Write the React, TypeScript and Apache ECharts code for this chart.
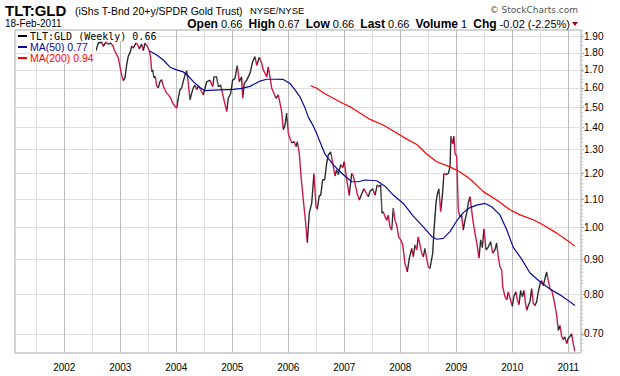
import React, { useEffect, useRef } from "react";
import * as echarts from "echarts";

// ---- data (decimal years, ratio values) ----
const priceTime = [
  2002.567, 2002.607, 2002.668, 2002.696, 2002.745, 2002.786, 2002.829, 2002.875, 2002.888, 2002.964,
  2003.025, 2003.054, 2003.084, 2003.114, 2003.143, 2003.173, 2003.204, 2003.232, 2003.280, 2003.311,
  2003.339, 2003.382, 2003.411, 2003.441, 2003.482, 2003.518, 2003.543, 2003.561, 2003.579, 2003.602,
  2003.625, 2003.650, 2003.679, 2003.709, 2003.739, 2003.768, 2003.798, 2003.829, 2003.857, 2003.900,
  2003.936, 2003.977, 2004.007, 2004.036, 2004.066, 2004.096, 2004.125, 2004.155, 2004.186, 2004.214,
  2004.245, 2004.275, 2004.304, 2004.334, 2004.364, 2004.393, 2004.423, 2004.482, 2004.543, 2004.602,
  2004.650, 2004.673, 2004.721, 2004.750, 2004.793, 2004.839, 2004.900, 2004.929, 2004.971, 2005.007,
  2005.048, 2005.089, 2005.125, 2005.168, 2005.186, 2005.214, 2005.257, 2005.316, 2005.364, 2005.405,
  2005.436, 2005.482, 2005.525, 2005.554, 2005.614, 2005.643, 2005.673, 2005.704, 2005.745, 2005.780,
  2005.821, 2005.852, 2005.882, 2005.911, 2005.941, 2005.971, 2006.000, 2006.030, 2006.061, 2006.107,
  2006.138, 2006.161, 2006.196, 2006.227, 2006.268, 2006.311, 2006.339, 2006.375, 2006.418, 2006.459,
  2006.495, 2006.518, 2006.554, 2006.579, 2006.614, 2006.650, 2006.686, 2006.714, 2006.757, 2006.793,
  2006.834, 2006.864, 2006.893, 2006.936, 2006.971, 2007.000, 2007.043, 2007.089, 2007.132, 2007.161,
  2007.191, 2007.232, 2007.268, 2007.311, 2007.352, 2007.400, 2007.429, 2007.459, 2007.507, 2007.548,
  2007.589, 2007.614, 2007.650, 2007.673, 2007.696, 2007.727, 2007.757, 2007.786, 2007.816, 2007.846,
  2007.875, 2007.905, 2007.936, 2007.971, 2008.007, 2008.043, 2008.084, 2008.125, 2008.161, 2008.204,
  2008.232, 2008.263, 2008.293, 2008.321, 2008.352, 2008.382, 2008.411, 2008.441, 2008.471, 2008.500,
  2008.530, 2008.579, 2008.602, 2008.638, 2008.661, 2008.691, 2008.721, 2008.750, 2008.780, 2008.816,
  2008.857, 2008.888, 2008.905, 2008.936, 2008.959, 2008.977, 2009.007, 2009.036, 2009.066, 2009.096,
  2009.125, 2009.155, 2009.186, 2009.214, 2009.245, 2009.275, 2009.304, 2009.375, 2009.405, 2009.436,
  2009.464, 2009.495, 2009.530, 2009.571, 2009.614, 2009.650, 2009.691, 2009.721, 2009.750, 2009.780,
  2009.811, 2009.829, 2009.870, 2009.900, 2009.929, 2009.959, 2010.000, 2010.030, 2010.066, 2010.089,
  2010.120, 2010.150, 2010.179, 2010.209, 2010.232, 2010.257, 2010.286, 2010.316, 2010.346, 2010.375,
  2010.405, 2010.436, 2010.464, 2010.495, 2010.525, 2010.554, 2010.584, 2010.614, 2010.643, 2010.673,
  2010.704, 2010.732, 2010.763, 2010.793, 2010.821, 2010.852, 2010.882, 2010.911, 2010.941, 2010.971,
  2011.000, 2011.030, 2011.061, 2011.089, 2011.118,
];

const priceValue = [
  1.813, 1.86, 1.865, 1.84, 1.865, 1.853, 1.86, 1.84, 1.82, 1.77,
  1.67, 1.64, 1.655, 1.73, 1.78, 1.80, 1.84, 1.83, 1.86, 1.85,
  1.825, 1.853, 1.813, 1.86, 1.84, 1.813, 1.77, 1.69, 1.70, 1.655,
  1.663, 1.61, 1.60, 1.635, 1.645, 1.61, 1.59, 1.572, 1.563, 1.546,
  1.52, 1.504, 1.495, 1.546, 1.59, 1.60, 1.635, 1.67, 1.695, 1.627,
  1.537, 1.572, 1.60, 1.615, 1.59, 1.61, 1.598, 1.562, 1.633, 1.642,
  1.606, 1.66, 1.66, 1.606, 1.615, 1.553, 1.477, 1.545, 1.57, 1.642,
  1.652, 1.725, 1.633, 1.66, 1.545, 1.624, 1.642, 1.68, 1.747, 1.777,
  1.725, 1.774, 1.738, 1.70, 1.66, 1.717, 1.66, 1.598, 1.57, 1.545,
  1.562, 1.52, 1.477, 1.39, 1.41, 1.47, 1.374, 1.35, 1.33, 1.335,
  1.313, 1.335, 1.285, 1.19, 1.098, 1.015, 0.951, 1.05, 1.086, 1.20,
  1.073, 1.064, 1.115, 1.115, 1.175, 1.175, 1.243, 1.277, 1.29, 1.243,
  1.19, 1.215, 1.195, 1.236, 1.223, 1.25, 1.175, 1.115, 1.20, 1.19,
  1.16, 1.12, 1.098, 1.12, 1.14, 1.12, 1.11, 1.13, 1.14, 1.115,
  1.155, 1.148, 1.155, 1.05, 1.055, 1.038, 1.025, 1.043, 1.003, 0.992,
  1.068, 1.025, 1.009, 0.97, 0.96, 0.944, 0.887, 0.862, 0.902, 0.933,
  0.907, 0.944, 0.928, 0.97, 0.944, 0.918, 0.907, 0.933, 0.902, 0.877,
  0.872, 0.918, 0.992, 1.086, 1.12, 1.14, 1.055, 1.11, 1.20, 1.195,
  1.20, 1.226, 1.36, 1.325, 1.36, 1.285, 1.271, 1.06, 1.038, 1.043,
  0.992, 1.025, 1.05, 1.086, 1.11, 1.06, 1.015, 0.94, 0.903, 0.96,
  0.935, 0.996, 0.928, 0.937, 0.954, 0.918, 0.928, 0.95, 0.907, 0.877,
  0.867, 0.82, 0.793, 0.785, 0.806, 0.79, 0.768, 0.795, 0.806, 0.785,
  0.772, 0.81, 0.793, 0.81, 0.78, 0.758, 0.77, 0.78, 0.815, 0.775,
  0.77, 0.78, 0.806, 0.828, 0.837, 0.823, 0.843, 0.862, 0.837, 0.815,
  0.81, 0.793, 0.77, 0.745, 0.708, 0.72, 0.694, 0.687, 0.693, 0.677,
  0.69, 0.694, 0.70, 0.677, 0.66,
];

const ma50Time = [
  2003.518, 2003.650, 2003.768, 2003.888, 2004.007, 2004.125, 2004.214, 2004.304, 2004.423, 2004.513,
  2004.602, 2004.780, 2005.018, 2005.173, 2005.316, 2005.495, 2005.614, 2005.763, 2005.911, 2006.030,
  2006.120, 2006.209, 2006.298, 2006.357, 2006.446, 2006.507, 2006.596, 2006.655, 2006.804, 2006.954,
  2007.132, 2007.250, 2007.370, 2007.579, 2007.727, 2007.875, 2008.054, 2008.232, 2008.411, 2008.561,
  2008.650, 2008.768, 2008.888, 2009.007, 2009.125, 2009.245, 2009.364, 2009.513, 2009.632, 2009.780,
  2009.900, 2010.018, 2010.168, 2010.316, 2010.495, 2010.673, 2010.852, 2010.971, 2011.118,
];
const ma50Value = [
  1.813, 1.787, 1.757, 1.715, 1.70, 1.688, 1.665, 1.634, 1.602, 1.585,
  1.587, 1.589, 1.592, 1.597, 1.608, 1.637, 1.647, 1.647, 1.646, 1.624,
  1.589, 1.552, 1.496, 1.45, 1.408, 1.372, 1.316, 1.281, 1.235, 1.201,
  1.167, 1.167, 1.174, 1.171, 1.15, 1.116, 1.085, 1.04, 1.003, 0.971,
  0.962, 0.965, 0.987, 1.023, 1.052, 1.07, 1.079, 1.085, 1.073, 1.044,
  0.993, 0.936, 0.90, 0.859, 0.834, 0.814, 0.798, 0.786, 0.77,
];

const ma200Time = [
  2006.396, 2006.507, 2006.625, 2006.745, 2006.864, 2006.977, 2007.102, 2007.280, 2007.459, 2007.696,
  2007.875, 2008.054, 2008.293, 2008.471, 2008.650, 2008.888, 2009.066, 2009.245, 2009.482, 2009.721,
  2009.959, 2010.138, 2010.375, 2010.554, 2010.793, 2010.959, 2011.118,
];
const ma200Value = [
  1.613, 1.598, 1.574, 1.554, 1.536, 1.518, 1.502, 1.47, 1.439, 1.412,
  1.384, 1.356, 1.323, 1.281, 1.248, 1.227, 1.206, 1.178, 1.129, 1.098,
  1.062, 1.044, 1.027, 1.009, 0.982, 0.961, 0.94,
];

const yTickLabels = ["0.70", "0.80", "0.90", "1.00", "1.10", "1.20", "1.30", "1.40", "1.50", "1.60", "1.70", "1.80", "1.90"];
const yearLabels = [2002, 2003, 2004, 2005, 2006, 2007, 2008, 2009, 2010, 2011];
const gridTicks = [2001.5, 2002, 2002.5, 2003, 2003.5, 2004, 2004.5, 2005, 2005.5, 2006, 2006.5, 2007, 2007.5, 2008, 2008.5, 2009, 2009.5, 2010, 2010.5, 2011];

const X_MIN = 2001.12;
const X_MAX = 2011.227;
const V_MIN = 0.6564;
const V_MAX = 1.9434;

const UP = "#2a2a2a";
const DOWN = "#cc1a48";
const SANS = '"Liberation Sans", Arial, sans-serif';

export default function App() {
  const ref = useRef<HTMLDivElement>(null);

  useEffect(() => {
    const chart = echarts.init(ref.current!, null, { renderer: "svg" });
    const n = Math.min(priceTime.length, priceValue.length);
    const price = [] as number[][];
    for (let i = 0; i < n; i++) price.push([priceTime[i], Math.log(priceValue[i])]);
    const pieces = [] as any[];
    for (let i = 0; i < n - 1; i++) {
      const color = priceValue[i + 1] >= priceValue[i] ? UP : DOWN;
      if (i === 0) pieces.push({ gte: priceTime[i], lte: priceTime[i + 1], color });
      else pieces.push({ gt: priceTime[i], lte: priceTime[i + 1], color });
    }
    const ma50 = ma50Time.map((t, i) => [t, Math.log(ma50Value[i])]);
    const ma200 = ma200Time.map((t, i) => [t, Math.log(ma200Value[i])]);
    const yVals = yTickLabels.map((s) => Math.log(parseFloat(s)));

    const option: any = {
      animation: false,
      backgroundColor: "#ffffff",
      grid: {
        left: 15,
        right: 39,
        top: 30,
        bottom: 23,
        show: true,
        borderColor: "#a9a9a9",
        borderWidth: 1,
        backgroundColor: "transparent",
      },
      xAxis: {
        type: "value",
        min: X_MIN,
        max: X_MAX,
        axisLine: { show: false },
        axisTick: { show: false, customValues: gridTicks },
        axisLabel: {
          customValues: yearLabels,
          formatter: (v: number) => String(Math.round(v)),
          color: "#000",
          fontSize: 10,
          fontFamily: SANS,
          margin: 9,
        },
        splitLine: { show: true, lineStyle: { color: ["#dedede", "#bcbcbc"], width: 1 } },
      },
      yAxis: {
        type: "value",
        position: "right",
        min: Math.log(V_MIN),
        max: Math.log(V_MAX),
        axisLine: { show: false },
        axisTick: { show: true, length: 3, customValues: yVals, lineStyle: { color: "#a9a9a9" } },
        minorTick: { show: true, splitNumber: 16, length: 2, lineStyle: { color: "#c4c4c4" } },
        axisLabel: {
          customValues: yVals,
          formatter: (v: number) => Math.exp(v).toFixed(2),
          color: "#000",
          fontSize: 10,
          fontFamily: SANS,
          margin: 3,
        },
        splitLine: { show: true, lineStyle: { color: "#dedede", width: 1 } },
      },
      visualMap: {
        type: "piecewise",
        show: false,
        dimension: 0,
        seriesIndex: 0,
        pieces,
      },
      series: [
        {
          name: "TLT:GLD",
          type: "line",
          data: price,
          showSymbol: false,
          symbol: "none",
          lineStyle: { width: 1.4 },
          z: 2,
        },
        {
          name: "MA(50)",
          type: "line",
          data: ma50,
          showSymbol: false,
          symbol: "none",
          lineStyle: { width: 1.2, color: "#0a0a9a" },
          itemStyle: { color: "#0a0a9a" },
          z: 3,
        },
        {
          name: "MA(200)",
          type: "line",
          data: ma200,
          showSymbol: false,
          symbol: "none",
          lineStyle: { width: 1.2, color: "#ff0000" },
          itemStyle: { color: "#ff0000" },
          z: 3,
        },
      ],
      graphic: {
        elements: [
          { type: "text", x: 5, y: 10, style: { text: "TLT:GLD", font: `bold 15px ${SANS}`, fill: "#000", verticalAlign: "middle" } },
          { type: "text", x: 75, y: 10.5, style: { text: "(iShs T-Bnd 20+y/SPDR Gold Trust)", font: `10.5px ${SANS}`, fill: "#000", verticalAlign: "middle" } },
          { type: "text", x: 250, y: 10.5, style: { text: "NYSE/NYSE", font: `9.5px ${SANS}`, fill: "#000", verticalAlign: "middle" } },
          { type: "text", x: 5, y: 23.5, style: { text: "18-Feb-2011", font: `10px ${SANS}`, fill: "#000", verticalAlign: "middle" } },
          { type: "text", x: 578, y: 10, style: { text: "© StockCharts.com", font: '9px "DejaVu Sans", sans-serif', fill: "#555", align: "right", verticalAlign: "middle" } },
          {
            type: "text",
            x: 570,
            y: 23.5,
            style: {
              text: "{b|Open} 0.66  {b|High} 0.67  {b|Low} 0.66  {b|Last} 0.66  {b|Volume} 1  {b|Chg} -0.02 (-2.25%)",
              font: `11px ${SANS}`,
              fill: "#000",
              align: "right",
              verticalAlign: "middle",
              rich: { b: { font: `bold 12px ${SANS}`, fill: "#000" } },
            },
          },
          { type: "polygon", shape: { points: [[572, 22], [578, 22], [575, 26]] }, style: { fill: "#8b0a2a" } },
          // legend
          { type: "line", shape: { x1: 18, y1: 36, x2: 27, y2: 36 }, style: { stroke: "#000", lineWidth: 2 }, z: 10 },
          { type: "text", x: 30, y: 36, z: 10, style: { text: "TLT:GLD (Weekly) 0.66", font: '10px "DejaVu Sans Mono", monospace', fill: "#000", verticalAlign: "middle", backgroundColor: "#fff" } },
          { type: "line", shape: { x1: 18, y1: 47, x2: 27, y2: 47 }, style: { stroke: "#0a0a9a", lineWidth: 2 }, z: 10 },
          { type: "text", x: 30, y: 47, z: 10, style: { text: "MA(50) 0.77", font: `10.5px ${SANS}`, fill: "#0a0a9a", verticalAlign: "middle", backgroundColor: "#fff" } },
          { type: "line", shape: { x1: 18, y1: 58, x2: 27, y2: 58 }, style: { stroke: "#ff0000", lineWidth: 2 }, z: 10 },
          { type: "text", x: 30, y: 58, z: 10, style: { text: "MA(200) 0.94", font: `10.5px ${SANS}`, fill: "#ff0000", verticalAlign: "middle", backgroundColor: "#fff" } },
        ],
      },
    };
    chart.setOption(option);
    return () => chart.dispose();
  }, []);

  return (
    <div
      ref={ref}
      style={{ position: "fixed", left: 0, top: 0, width: 620, height: 376, background: "#fff" }}
    />
  );
}
